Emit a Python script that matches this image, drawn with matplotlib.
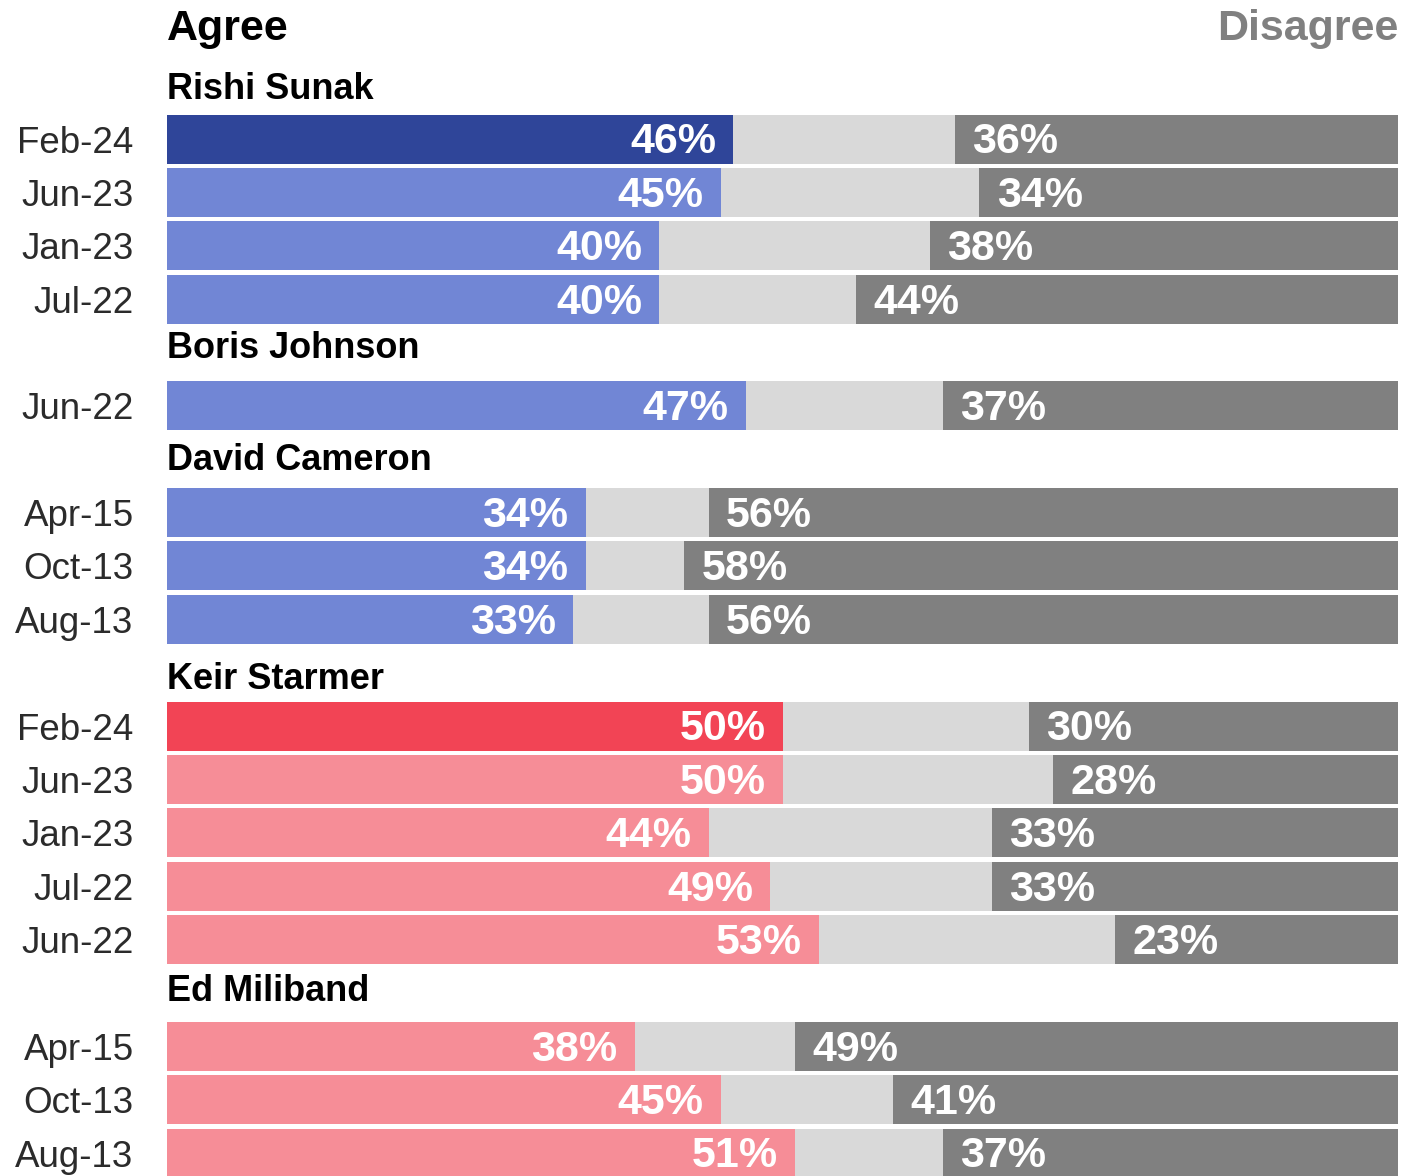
import matplotlib
matplotlib.use('Agg')
import matplotlib.pyplot as plt

# ── data ──────────────────────────────────────────────────────────────
leaders = ['Rishi Sunak', 'Boris Johnson', 'David Cameron', 'Keir Starmer', 'Ed Miliband']
dates = [
    ['Feb-24', 'Jun-23', 'Jan-23', 'Jul-22'],
    ['Jun-22'],
    ['Apr-15', 'Oct-13', 'Aug-13'],
    ['Feb-24', 'Jun-23', 'Jan-23', 'Jul-22', 'Jun-22'],
    ['Apr-15', 'Oct-13', 'Aug-13'],
]
agree = [
    [46, 45, 40, 40],
    [47],
    [34, 34, 33],
    [50, 50, 44, 49, 53],
    [38, 45, 51],
]
disagree = [
    [36, 34, 38, 44],
    [37],
    [56, 58, 56],
    [30, 28, 33, 33, 23],
    [49, 41, 37],
]

# ── style ─────────────────────────────────────────────────────────────
plt.rcParams['font.family'] = ['Liberation Sans', 'DejaVu Sans']
blue_dark, blue_light = '#2F4599', '#7186D5'
red_dark, red_light = '#F24455', '#F68D97'
mid_grey, dis_grey = '#D9D9D9', '#808080'
party = ['con', 'con', 'con', 'lab', 'lab']
header_shift = [0.0, -0.15, -0.05, 0.06, -0.1]   # small nudges of the name rows

fig = plt.figure(figsize=(14.22, 11.76), dpi=100)
# axes spans the bar area horizontally, whole figure vertically
ax = fig.add_axes([167 / 1422, 0, 1231 / 1422, 1])

slot = 1   # slot 0 is the Agree / Disagree title row
ticks, ticklabels = [], []
for g, name in enumerate(leaders):
    first = slot + 1
    ax.text(0, first - 0.75 + header_shift[g], name, fontsize=26, fontweight='bold',
            va='baseline', ha='left', color='black')
    slot += 1
    for k, (d, a, s) in enumerate(zip(dates[g], agree[g], disagree[g])):
        y = slot
        if party[g] == 'con':
            col = blue_dark if (g == 0 and k == 0) else blue_light
        else:
            col = red_dark if (g == 3 and k == 0) else red_light
        ax.barh(y, 100, height=0.918, color=mid_grey, linewidth=0)
        ax.barh(y, a, height=0.918, color=col, linewidth=0)
        ax.barh(y, s, left=100 - s, height=0.918, color=dis_grey, linewidth=0)
        ax.text(a - 1.4, y + 0.27, f'{a}%', ha='right', va='baseline',
                fontsize=31, fontweight='bold', color='white')
        ax.text(100 - s + 1.4, y + 0.27, f'{s}%', ha='left', va='baseline',
                fontsize=31, fontweight='bold', color='white')
        ticks.append(y)
        ticklabels.append(d)
        slot += 1

ax.text(0, 0.145, 'Agree', fontsize=31, fontweight='bold', va='baseline',
        ha='left', color='black')
ax.text(100, 0.145, 'Disagree', fontsize=31, fontweight='bold', va='baseline',
        ha='right', color=dis_grey)

ax.set_xlim(0, 100)
ax.set_ylim(21.43, -0.6045)
ax.set_yticks(ticks)
ax.set_yticklabels(ticklabels, fontsize=26.5, color='#2b2b2b')
ax.tick_params(axis='y', length=0, pad=24)
ax.set_xticks([])
for sp in ax.spines.values():
    sp.set_visible(False)
ax.patch.set_alpha(0)

fig.savefig('out.png', dpi=100)
